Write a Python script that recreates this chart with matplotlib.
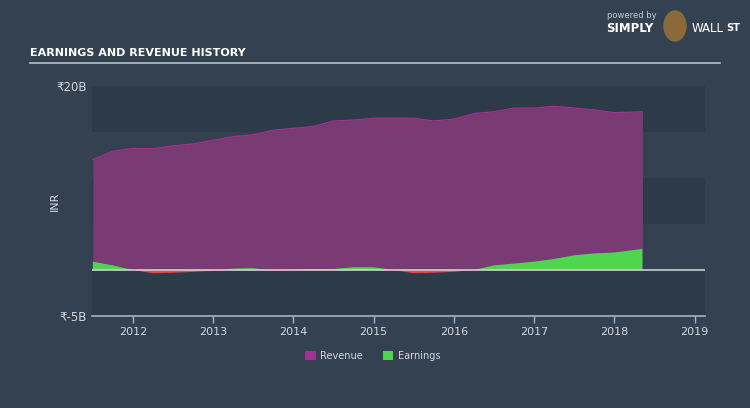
"""Earnings and revenue history (INR, billions) in the Simply Wall St style."""
import numpy as np
import matplotlib
matplotlib.use("Agg")
import matplotlib.pyplot as plt
from matplotlib.patches import Patch, Ellipse

# quarterly periods (decimal year) and values in ₹ billions
dates = [2011.5, 2011.75, 2012.0, 2012.25, 2012.5, 2012.75, 2013.0, 2013.25,
         2013.5, 2013.75, 2014.0, 2014.25, 2014.5, 2014.75, 2015.0, 2015.25,
         2015.5, 2015.75, 2016.0, 2016.25, 2016.5, 2016.75, 2017.0, 2017.25,
         2017.5, 2017.75, 2018.0, 2018.35]
revenue = [12.0, 12.9, 13.2, 13.2, 13.5, 13.7, 14.1, 14.5,
           14.7, 15.2, 15.4, 15.6, 16.2, 16.3, 16.5, 16.5,
           16.5, 16.2, 16.4, 17.0, 17.2, 17.6, 17.6, 17.8,
           17.6, 17.4, 17.1, 17.2]
earnings = [0.9, 0.5, 0.0, -0.35, -0.3, -0.2, -0.1, 0.15,
            0.2, -0.1, 0.05, 0.1, 0.1, 0.3, 0.3, 0.0,
            -0.35, -0.3, -0.2, 0.0, 0.5, 0.7, 0.9, 1.2,
            1.6, 1.8, 1.9, 2.3]
year_ticks = [2012, 2013, 2014, 2015, 2016, 2017, 2018, 2019]
y_ticks = [-5, 20]
y_tick_labels = ["₹-5B", "₹20B"]

BG = "#334150"
BAND_DARK = "#2d3a48"
BAND_LIGHT = "#334150"
PURPLE_FILL = "#7a3a74"
PURPLE_LINE = "#a3318f"
GREEN = "#4fd651"
RED = "#e8474a"
TEXT = "#d4d8dc"

x = np.array(dates)
rev = np.array(revenue)
earn = np.array(earnings)

fig = plt.figure(figsize=(7.5, 4.08), dpi=100, facecolor=BG)
ax = fig.add_axes([92 / 750, 1 - 316 / 408, 613 / 750, 230 / 408])
ax.set_facecolor(BAND_LIGHT)

# alternating horizontal bands every 5B
for lo in (15, 5, -5):
    ax.axhspan(lo, lo + 5, color=BAND_DARK, lw=0, zorder=0)

ax.fill_between(x, 0, rev, color=PURPLE_FILL, lw=0, zorder=2)
ax.plot(x, rev, color=PURPLE_LINE, lw=0.9, zorder=3)
ax.fill_between(x, 0, earn, where=earn >= 0, interpolate=True, color=GREEN, lw=0, zorder=4)
ax.fill_between(x, 0, earn, where=earn <= 0, interpolate=True, color=RED, lw=0, zorder=4)

ax.axhline(0, color="#c9cfd4", lw=1.2, zorder=5)

ax.set_xlim(2011.49, 2019.13)
ax.set_ylim(-5, 20)
ax.set_yticks(y_ticks)
ax.set_yticklabels(y_tick_labels)
ax.set_xticks(year_ticks)
ax.set_xticklabels([str(t) for t in year_ticks])
ax.tick_params(axis="y", length=0, labelsize=8.5, colors=TEXT, pad=4)
ax.tick_params(axis="x", length=5, width=1, color="#aab2ba", labelsize=8,
               colors=TEXT, pad=3)
for side in ("top", "right", "left"):
    ax.spines[side].set_visible(False)
ax.spines["bottom"].set_color("#aab2ba")
ax.spines["bottom"].set_linewidth(1.2)
ax.set_ylabel("INR", color=TEXT, fontsize=8)
ax.yaxis.set_label_coords(-32 / 613, 0.5)

# title + rule
fig.text(30 / 750, 1 - 53 / 408, "EARNINGS AND REVENUE HISTORY", color="white",
         fontsize=8, fontweight="bold", family="DejaVu Sans",
         va="center", ha="left")
fig.add_artist(plt.Line2D([30 / 750, 720 / 750], [1 - 63 / 408] * 2,
                          color="#b9c0c8", lw=1.2))

# branding
fig.text(607 / 750, 1 - 15 / 408, "powered by", color="#c8ccd0", fontsize=6,
         va="center", ha="left")
fig.text(606 / 750, 1 - 28 / 408, "SIMPLY", color="white", fontsize=8.5,
         fontweight="bold", va="center", ha="left")
fig.text(692 / 750, 1 - 28 / 408, "WALL", color="white", fontsize=8.5,
         va="center", ha="left")
fig.text(726 / 750, 1 - 28 / 408, "ST", color="white", fontsize=7,
         fontweight="bold", va="center", ha="left")
fig.add_artist(Ellipse((675 / 750, 1 - 26 / 408), 22 / 750, 30 / 408,
                       transform=fig.transFigure, color="#8a6a3a"))

handles = [Patch(facecolor=PURPLE_LINE, label="Revenue"),
           Patch(facecolor=GREEN, label="Earnings")]
leg = fig.legend(handles=handles, loc="center", bbox_to_anchor=(0.497, 1 - 356 / 408),
                 ncol=2, frameon=False, fontsize=7, handlelength=1.1,
                 handleheight=1.1, columnspacing=2.0, handletextpad=0.5)
for t in leg.get_texts():
    t.set_color(TEXT)

fig.savefig("out.png", dpi=100, facecolor=BG)
